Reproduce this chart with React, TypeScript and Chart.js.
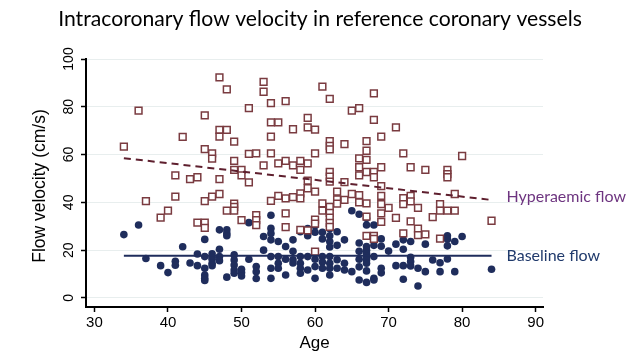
import React, { useEffect, useRef } from "react";
import { Chart, registerables } from "chart.js";

Chart.register(...registerables);

// [age, velocity cm/s]
const hyperaemicFlow: [number, number][] = [
  [34, 63.3], [36, 78.4], [37, 40.5], [39, 33.6], [40, 36.5],
  [41, 51.3], [41, 42.4], [42, 67.4], [43, 49.7], [44, 50.5], [44, 31.5],
  [45, 76.4], [45, 62.3], [45, 40.5], [45, 31.5], [45, 29.3],
  [46, 60.5], [46, 58.3], [46, 42.4],
  [47, 92.3], [47, 70.3], [47, 67.5], [47, 49.7], [47, 43.5],
  [48, 87.3], [48, 70.3], [48, 36.5],
  [49, 65.4], [49, 57.4], [49, 53.6], [49, 39.5], [49, 38.1], [49, 36.5],
  [50, 53.6], [50, 51.3], [50, 32.6],
  [51, 79.4], [51, 60.3], [51, 48.4],
  [52, 60.5], [52, 34.6], [52, 32.6], [52, 30.5],
  [53, 90.4], [53, 86.3], [53, 55.5],
  [54, 81.5], [54, 73.5], [54, 67.5], [54, 60.5], [54, 40.6],
  [55, 73.5], [55, 56.3], [55, 42.7],
  [56, 82.4], [56, 57.4], [56, 41.7], [56, 35.4], [56, 29.6],
  [57, 70.6], [57, 55.5], [57, 42.2],
  [58, 57.4], [58, 53.6], [58, 43.8], [58, 41.7], [58, 28.5],
  [59, 75.4], [59, 71.4], [59, 56.3], [59, 49.1], [59, 45.9], [59, 28.3],
  [60, 70.4], [60, 60.5], [60, 44.5], [60, 32.8], [60, 31.1], [60, 19.4],
  [61, 88.4], [61, 39.6], [61, 36.5],
  [62, 83.3], [62, 65.6], [62, 63.6], [62, 62.2], [62, 52.8], [62, 50.8],
  [62, 48.7], [62, 38.1], [62, 35.6], [62, 33.6], [62, 31.4], [62, 29.7],
  [63, 44.5], [63, 41.2], [63, 39.5],
  [64, 64.4], [64, 48.5], [64, 41.0],
  [65, 78.4], [65, 43.5],
  [66, 79.4], [66, 58.4], [66, 54.7], [66, 51.3], [66, 43.0], [66, 40.0],
  [67, 65.6], [67, 61.6], [67, 57.8], [67, 52.7], [67, 39.6], [67, 34.0], [67, 26.0],
  [68, 85.6], [68, 74.5], [68, 52.7], [68, 50.5], [68, 26.0], [68, 24.7],
  [69, 67.5], [69, 54.7], [69, 46.8], [69, 42.7], [69, 39.3], [69, 35.4], [69, 31.8],
  [70, 37.7],
  [71, 71.4], [71, 33.5],
  [72, 60.5], [72, 41.8], [72, 39.3], [72, 27.0],
  [73, 54.7], [73, 42.7], [73, 40.4], [73, 32.0],
  [74, 37.7], [74, 29.0], [74, 26.3],
  [75, 53.6], [75, 26.6],
  [76, 33.8],
  [77, 39.3], [77, 36.5], [77, 24.8],
  [78, 53.6], [78, 51.8], [78, 50.5], [78, 36.5],
  [79, 43.5], [79, 36.5],
  [80, 59.4],
  [84, 32.3],
];

const baselineFlow: [number, number][] = [
  [34, 26.5], [36, 30.5], [37, 16.5], [39, 13.5], [40, 10.6],
  [41, 15.3], [41, 13.7], [42, 21.4], [43, 14.6], [44, 18.4], [44, 13.5],
  [45, 24.5], [45, 17.3], [45, 12.4], [45, 9.6], [45, 8.2], [45, 7.3],
  [46, 18.5], [46, 17.0], [46, 16.2], [46, 14.5], [46, 13.5],
  [47, 28.5], [47, 20.4], [47, 17.3], [47, 15.6],
  [48, 28.5], [48, 27.0], [48, 26.0], [48, 8.7],
  [49, 18.0], [49, 15.9], [49, 13.8], [49, 11.7], [49, 10.3],
  [50, 12.0], [50, 10.6], [50, 9.2],
  [51, 31.5], [51, 16.2],
  [52, 13.1], [52, 11.0], [52, 8.1],
  [53, 25.7], [53, 20.0],
  [54, 34.6], [54, 29.1], [54, 27.0], [54, 24.3], [54, 17.3], [54, 12.4], [54, 8.2],
  [55, 23.6], [55, 17.3], [55, 14.5], [55, 12.4],
  [56, 21.5], [56, 16.2], [56, 9.6],
  [57, 24.3], [57, 19.5], [57, 16.0], [57, 14.6],
  [58, 27.7], [58, 17.3], [58, 14.5], [58, 12.4], [58, 10.3],
  [59, 29.0], [59, 26.0], [59, 17.3], [59, 11.7],
  [60, 30.2], [60, 27.5], [60, 16.2], [60, 13.1], [60, 8.2],
  [61, 27.5], [61, 24.7], [61, 17.3], [61, 15.0], [61, 12.4],
  [62, 29.0], [62, 26.0], [62, 23.6], [62, 21.3], [62, 17.3], [62, 14.5], [62, 12.4], [62, 9.6],
  [63, 27.7], [63, 22.0], [63, 16.0], [63, 12.4],
  [64, 24.3], [64, 14.5], [64, 11.7],
  [65, 36.5], [65, 11.0],
  [66, 35.0], [66, 23.0], [66, 19.5], [66, 16.2], [66, 13.0], [66, 7.5],
  [67, 33.3], [67, 30.5], [67, 21.5], [67, 20.0], [67, 18.7], [67, 17.3],
  [67, 15.9], [67, 14.5], [67, 11.3], [67, 6.5],
  [68, 30.5], [68, 25.7], [68, 22.0], [68, 17.3], [68, 8.2], [68, 7.5],
  [69, 24.7], [69, 21.6], [69, 12.4], [69, 10.5],
  [70, 19.6],
  [71, 22.5], [71, 13.5],
  [72, 24.3], [72, 20.4], [72, 13.5], [72, 7.8],
  [73, 23.6], [73, 17.0], [73, 15.2], [73, 13.4],
  [74, 12.4], [74, 5.0],
  [75, 22.5], [75, 11.0],
  [76, 15.9],
  [77, 14.7], [77, 11.0],
  [78, 26.0], [78, 24.6], [78, 21.8], [78, 16.3],
  [79, 23.6], [79, 11.0],
  [80, 25.7],
  [84, 12.0],
];

const fitAges = [34, 84];
const hyperaemicFit = [58.5, 41.0];
const baselineFit = [17.6, 17.6];

const xTicks = [30, 40, 50, 60, 70, 80, 90];
const yTicks = [0, 20, 40, 60, 80, 100];

const titleText = "Intracoronary flow velocity in reference coronary vessels";
const xTitle = "Age";
const yTitle = "Flow velocity (cm/s)";
const hyperaemicLabel = "Hyperaemic flow";
const baselineLabel = "Baseline flow";

const HYPER_COLOR = "#7a3b40";
const HYPER_LINE = "#5e1f2e";
const BASE_COLOR = "#1f2d5c";
const HYPER_TEXT = "#6e3580";
const BASE_TEXT = "#203a6c";

const textPlugin = {
  id: "customTexts",
  afterDraw(chart: any) {
    const ctx = chart.ctx as CanvasRenderingContext2D;
    const xs = chart.scales.x;
    const ys = chart.scales.y;
    ctx.save();
    ctx.fillStyle = "#000";
    ctx.textAlign = "center";
    ctx.textBaseline = "middle";

    // title
    ctx.font = "17px Lato";
    const tw = ctx.measureText(titleText).width;
    const ts = (17 * 524) / tw;
    ctx.font = `${ts.toFixed(2)}px Lato`;
    ctx.fillText(titleText, 320, 19);

    // y tick labels (rotated)
    ctx.font = "14px 'Liberation Sans'";
    yTicks.forEach((v) => {
      const py = ys.getPixelForValue(v);
      ctx.save();
      ctx.translate(69, py);
      ctx.rotate(-Math.PI / 2);
      ctx.fillText(String(v), 0, 0);
      ctx.restore();
    });

    // y title
    ctx.font = "17.5px 'Liberation Sans'";
    ctx.save();
    ctx.translate(40, 186);
    ctx.rotate(-Math.PI / 2);
    ctx.fillText(yTitle, 0, 0);
    ctx.restore();

    // x title
    ctx.font = "17px 'Liberation Sans'";
    ctx.fillText(xTitle, (xs.left + xs.right) / 2 - 0, 343);

    // series labels
    ctx.textAlign = "left";
    const lx = xs.getPixelForValue(fitAges[1]) + 15;
    ctx.font = "16px Lato";
    ctx.fillStyle = HYPER_TEXT;
    ctx.fillText(hyperaemicLabel, lx, ys.getPixelForValue(hyperaemicFit[1]) - 3);
    ctx.fillStyle = BASE_TEXT;
    ctx.fillText(baselineLabel, lx, ys.getPixelForValue(baselineFit[1]));
    ctx.restore();
  },
};

export default function App() {
  const canvasRef = useRef<HTMLCanvasElement | null>(null);

  useEffect(() => {
    if (!canvasRef.current) return;
    const chart = new Chart(canvasRef.current, {
      type: "scatter",
      data: {
        datasets: [
          {
            label: "Hyperaemic fit",
            data: fitAges.map((a, i) => ({ x: a, y: hyperaemicFit[i] })),
            showLine: true,
            borderColor: HYPER_LINE,
            borderWidth: 2,
            borderDash: [7, 5],
            pointRadius: 0,
            order: 0,
          },
          {
            label: "Baseline fit",
            data: fitAges.map((a, i) => ({ x: a, y: baselineFit[i] })),
            showLine: true,
            borderColor: BASE_COLOR,
            borderWidth: 2,
            pointRadius: 0,
            order: 1,
          },
          {
            label: "Hyperaemic flow",
            data: hyperaemicFlow.map(([a, v]) => ({ x: a, y: v })),
            pointStyle: "rect",
            pointRadius: 4.8,
            borderWidth: 1.5,
            borderColor: HYPER_COLOR,
            backgroundColor: "#ffffff",
            order: 2,
          },
          {
            label: "Baseline flow",
            data: baselineFlow.map(([a, v]) => ({ x: a, y: v })),
            pointStyle: "circle",
            pointRadius: 3.8,
            borderWidth: 0,
            borderColor: BASE_COLOR,
            backgroundColor: BASE_COLOR,
            order: 3,
          },
        ],
      },
      options: {
        animation: false,
        responsive: false,
        devicePixelRatio: 1,
        layout: { padding: { top: 59, right: 97, bottom: 0, left: 0 } },
        plugins: {
          legend: { display: false },
          tooltip: { enabled: false },
          title: { display: false },
        },
        scales: {
          x: {
            type: "linear",
            min: 28.85,
            max: 91,
            afterBuildTicks: (s: any) => {
              s.ticks = xTicks.map((v) => ({ value: v }));
            },
            afterFit: (s: any) => {
              s.height = 53;
            },
            grid: {
              drawOnChartArea: false,
              drawTicks: true,
              tickLength: 5,
              tickColor: "#000",
              tickWidth: 1.5,
            },
            border: { display: true, color: "#000", width: 2 },
            ticks: {
              color: "#000",
              font: { family: "'Liberation Sans'", size: 15 },
              padding: 2,
              maxRotation: 0,
              minRotation: 0,
            },
          },
          y: {
            type: "linear",
            min: -3.8,
            max: 100,
            afterBuildTicks: (s: any) => {
              s.ticks = yTicks.map((v) => ({ value: v }));
            },
            afterFit: (s: any) => {
              s.width = 86;
            },
            grid: {
              drawOnChartArea: true,
              color: "#e8eeee",
              lineWidth: 1,
              drawTicks: true,
              tickLength: 5,
              tickColor: "#000",
              tickWidth: 1.5,
            },
            border: { display: true, color: "#000", width: 2 },
            ticks: { display: false },
          },
        },
      },
      plugins: [textPlugin],
    });
    return () => chart.destroy();
  }, []);

  return (
    <div style={{ position: "absolute", left: 0, top: 0, width: 640, height: 360, background: "#fff" }}>
      <canvas ref={canvasRef} width={640} height={360} />
    </div>
  );
}
